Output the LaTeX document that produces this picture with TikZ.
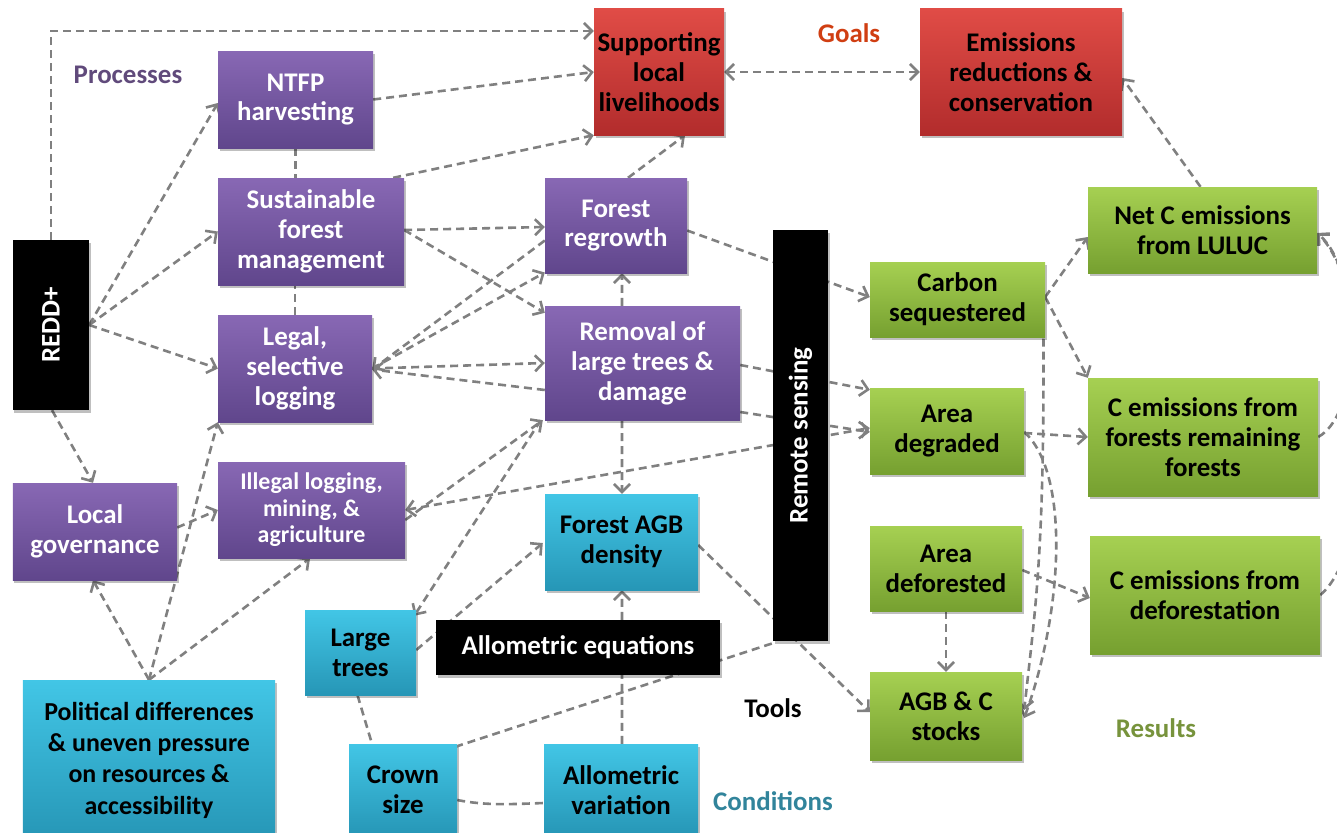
\documentclass[tikz,border=0pt]{standalone}
\usepackage{fontspec}
\setmainfont{Carlito}
\usetikzlibrary{arrows.meta,shadows,calc}
\pgfdeclarelayer{bg}
\pgfsetlayers{bg,main}
\definecolor{purT}{RGB}{136,104,180}
\definecolor{purB}{RGB}{96,70,140}
\definecolor{redT}{RGB}{224,76,70}
\definecolor{redB}{RGB}{178,44,44}
\definecolor{grnT}{RGB}{166,208,82}
\definecolor{grnB}{RGB}{118,160,48}
\definecolor{cyaT}{RGB}{66,198,230}
\definecolor{cyaB}{RGB}{38,150,182}
\definecolor{lineg}{RGB}{128,128,128}
\definecolor{goalc}{RGB}{208,62,18}
\definecolor{procc}{RGB}{96,74,123}
\definecolor{resc}{RGB}{119,147,60}
\definecolor{condc}{RGB}{49,132,155}
\tikzset{
  sz/.style 2 args={minimum width=#1bp, minimum height=#2bp},
  box/.style={rectangle, inner sep=0pt, align=center,
    font=\fontsize{27}{30}\selectfont\bfseries,
    drop shadow={shadow xshift=1.5bp, shadow yshift=-3bp, opacity=0.25, fill=black}},
  pur/.style={box, top color=purT, bottom color=purB, text=white},
  redbox/.style={box, top color=redT, bottom color=redB, text=black},
  grn/.style={box, top color=grnT, bottom color=grnB, text=black},
  cya/.style={box, top color=cyaT, bottom color=cyaB, text=black},
  blk/.style={box, fill=black, text=white},
  lbl/.style={font=\fontsize{27}{30}\selectfont\bfseries, inner sep=0pt},
  conn/.style={draw=lineg, line width=2.6bp, dash pattern=on 8bp off 5bp},
  arr/.style={conn, -{Straight Barb[length=8bp,width=16bp]}},
  darr/.style={conn, {Straight Barb[length=8bp,width=16bp]}-{Straight Barb[length=8bp,width=16bp]}}
}
\begin{document}
\begin{tikzpicture}[x=1bp,y=-1bp]
\useasboundingbox (0,0) rectangle (1337,832);
% nodes
\node[blk, sz={76}{170}] (redd) at (51,325) {\rotatebox{90}{REDD+}};
\node[pur, sz={155}{97}] (ntfp) at (295.5,99.5) {NTFP\\harvesting};
\node[pur, sz={186}{107}] (sfm) at (311,231.5) {Sustainable\\forest\\management};
\node[pur, sz={154}{107}] (legal) at (295,368.5) {Legal,\\selective\\logging};
\node[pur, sz={164}{97}] (localgov) at (95,531.5) {Local\\governance};
\node[pur, sz={187}{96}, font=\fontsize{24}{26.5}\selectfont\bfseries] (illegal) at (311.5,510) {Illegal logging,\\mining, \&\\agriculture};
\node[cya, sz={252}{160}, font=\fontsize{26}{31.5}\selectfont\bfseries] (polit) at (149,760) {Political differences\\\& uneven pressure\\on resources \&\\accessibility};
\node[redbox, sz={130}{126}] (supp) at (659,72) {Supporting\\local\\livelihoods};
\node[redbox, sz={202}{126}] (emis) at (1021,72) {Emissions\\reductions \&\\conservation};
\node[pur, sz={142}{95}] (regrowth) at (616,225.5) {Forest\\regrowth};
\node[pur, sz={195}{114}] (removal) at (642.5,363) {Removal of\\large trees \&\\damage};
\node[cya, sz={153}{96}] (agb) at (621.5,542) {Forest AGB\\density};
\node[blk, sz={55}{411}] (rs) at (800.5,435.5) {\rotatebox{90}{Remote sensing}};
\node[blk, sz={284}{55}] (alleq) at (578,647.5) {Allometric equations};
\node[cya, sz={111}{85}] (large) at (360.5,652.5) {Large\\trees};
\node[cya, sz={108}{92}] (crown) at (403,790) {Crown\\size};
\node[cya, sz={154}{92}] (allvar) at (621,790) {Allometric\\variation};
\node[grn, sz={175}{75}] (carbon) at (957.5,299.5) {Carbon\\sequestered};
\node[grn, sz={154}{86}] (adeg) at (947,431) {Area\\degraded};
\node[grn, sz={152}{85}] (adef) at (946,568.5) {Area\\deforested};
\node[grn, sz={152}{88}] (agbc) at (946,716) {AGB \& C\\stocks};
\node[grn, sz={229}{86}] (netc) at (1202.5,230) {Net C emissions\\from LULUC};
\node[grn, sz={230}{118}] (cefr) at (1203,437) {C emissions from\\forests remaining\\forests};
\node[grn, sz={230}{118}] (cedef) at (1205,595) {C emissions from\\deforestation};
% labels
\node[lbl, text=goalc] (goals) at (849,33) {Goals};
\node[lbl, text=procc] (processes) at (128,75) {Processes};
\node[lbl, text=black] (tools) at (773,708) {Tools};
\node[lbl, text=resc] (results) at (1156,728) {Results};
\node[lbl, text=condc] (conditions) at (773,801) {Conditions};
% connectors
\begin{pgfonlayer}{bg}
\draw[arr] (redd.north) |- ([yshift=41bp]supp.west);
\draw[arr] (redd.east) -- ([yshift=-3.5bp]ntfp.west);
\draw[arr] (redd.east) -- (sfm.west);
\draw[arr] (redd.east) -- (legal.west);
\draw[arr] ([xshift=1bp]redd.south) -- ([xshift=-2bp]localgov.north);
\draw[arr] (ntfp.east) -- (supp.west);
\draw[arr] ([xshift=-11bp]sfm.north east) -- (supp.south west);
\draw[conn] (ntfp.south) -- (ntfp.south |- sfm.north);
\draw[conn] (legal.north) -- (legal.north |- sfm.south);
\draw[arr] ([yshift=1.5bp]sfm.east) -- ([yshift=-1.5bp]regrowth.west);
\draw[arr] ([yshift=1.5bp]sfm.east) -- ([yshift=-7bp]removal.north west);
\draw[arr] ([xshift=-20.5bp]removal.north) -- ([xshift=6bp]regrowth.south);
\draw[arr] ([xshift=12bp]regrowth.north) -- ([xshift=26bp]supp.south);
\draw[darr] (supp.east) -- (emis.west);
\draw[arr] ([xshift=-2bp]netc.north) -- ([yshift=-6bp]emis.east);
\draw[arr] ([yshift=-15bp]regrowth.west) -- ([yshift=-1bp]legal.east);
\draw[arr] (legal.east) -- ([yshift=-47bp]regrowth.west);
\draw[arr] (legal.east) -- (removal.west);
\draw[arr] ([yshift=-27bp]removal.west) -- ([yshift=-1bp]legal.east);
\draw[arr] ([yshift=-5bp]regrowth.east) -- ([yshift=2.5bp]carbon.west);
\draw[arr] ([yshift=-2bp]removal.east) -- ([yshift=-2bp]adeg.north west);
\draw[arr] ([yshift=-49bp]removal.east) -- ([yshift=-1bp]adeg.west);
\draw[darr] (illegal.east) -- ([yshift=3bp]adeg.west);
\draw[arr] ([yshift=-10bp]illegal.east) -- ([xshift=-2bp]removal.south west);
\draw[arr] ([xshift=-4bp]removal.south west) -- ([xshift=-2bp,yshift=-6bp]large.north east);
\draw[arr] ([yshift=-3bp]agb.east) -- ([yshift=4bp]agbc.west);
\draw[arr] ([xshift=-20.5bp]removal.south) -- ([xshift=0.5bp]agb.north);
\draw[arr] ([xshift=44bp]alleq.north) -- ([xshift=0.5bp]agb.south);
\draw[conn] ([xshift=1bp]allvar.north) -- ([xshift=44bp]alleq.south);
\draw[arr] ([yshift=2.5bp]large.east) -- ([xshift=-2bp,yshift=-1bp]agb.west);
\draw[conn] ([xshift=-3bp]large.south) -- ([xshift=-31bp]crown.north);
\draw[conn] ([xshift=-2bp,yshift=-3bp]crown.north east) -- ([yshift=-2bp]rs.south west);
\draw[conn] ([yshift=-10bp]crown.east) .. controls +(30,6) and +(-30,1) .. ([yshift=-13bp]allvar.west);
\draw[arr] (polit.north) -- ([xshift=-2bp]localgov.south);
\draw[arr] (polit.north) -- (legal.south west);
\draw[arr] (polit.north) -- ([xshift=-1.5bp]illegal.south);
\draw[arr] ([yshift=4bp]localgov.east) -- (illegal.west);
\draw[arr] ([yshift=2.5bp]carbon.east) -- ([yshift=-7bp]netc.west);
\draw[arr] ([yshift=2.5bp]carbon.east) -- (cefr.north west);
\draw[arr] ([xshift=-2bp]carbon.east) .. controls +(2,250) and +(12,-110) .. ([xshift=2bp,yshift=6bp]agbc.east);
\draw[arr] ([yshift=-1bp]adeg.east) .. controls +(45,40) and +(40,-110) .. ([xshift=2bp,yshift=-2bp]agbc.east);
\draw[arr] ([yshift=-2bp]adeg.east) -- (cefr.west);
\draw[arr] ([yshift=-1.5bp]adef.east) -- ([yshift=-3bp]cedef.west);
\draw[arr] (adef.south) -- (agbc.north);
\draw[arr] (cefr.east) .. controls +(45,-25) and +(45,40) .. ([yshift=-3bp]netc.east);
\draw[arr] (cedef.east) .. controls +(60,-50) and +(60,60) .. ([yshift=-3bp]netc.east);
\end{pgfonlayer}
\end{tikzpicture}
\end{document}
